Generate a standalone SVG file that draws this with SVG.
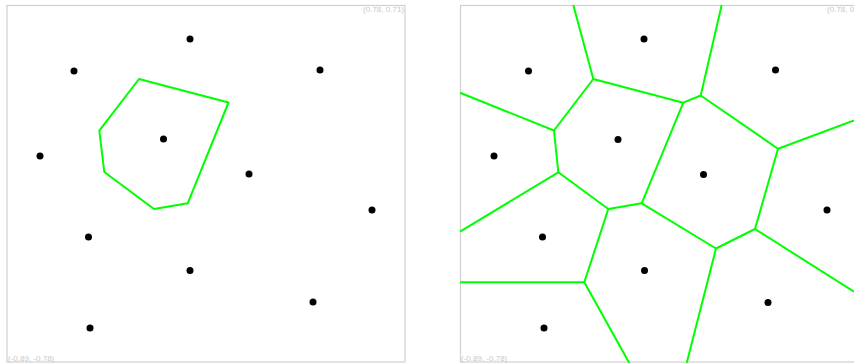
<svg xmlns="http://www.w3.org/2000/svg" width="854" height="363" viewBox="0 0 854 363">
<style>
.frame{fill:none;stroke:#d0d0d0;stroke-width:1.2}
.lbl{font-family:"Liberation Sans",Arial,sans-serif;font-size:8px;fill:#c8c8c8}
.edge{fill:none;stroke:#00ff00;stroke-width:2;stroke-linejoin:round}
.pt{fill:#000}
</style>
<rect width="854" height="363" fill="#fff"/>
<g id="left-panel">
  <rect class="frame" x="7" y="5.5" width="398" height="356.5"/>
  <text class="lbl" x="404" y="12" text-anchor="end">(0.78, 0.71)</text>
  <text class="lbl" x="8" y="361">(-0.89, -0.78)</text>
  <g id="left-connectors">
    <polygon class="edge" points="139,79 228.5,102.5 187.7,203.3 154,209 104.3,172 99.3,130.7"/>
  </g>
  <g id="left-points">
    <circle class="pt" cx="190" cy="39" r="3.5"/>
    <circle class="pt" cx="74" cy="71" r="3.5"/>
    <circle class="pt" cx="320" cy="70" r="3.5"/>
    <circle class="pt" cx="163.5" cy="139" r="3.5"/>
    <circle class="pt" cx="40" cy="156" r="3.5"/>
    <circle class="pt" cx="249" cy="174" r="3.5"/>
    <circle class="pt" cx="372" cy="210" r="3.5"/>
    <circle class="pt" cx="88.5" cy="237" r="3.5"/>
    <circle class="pt" cx="190" cy="270.5" r="3.5"/>
    <circle class="pt" cx="313" cy="302" r="3.5"/>
    <circle class="pt" cx="90" cy="328" r="3.5"/>
  </g>
</g>
<g id="right-panel">
  <rect class="frame" x="460.5" y="5.5" width="409" height="356.5"/>
  <text class="lbl" x="868" y="12" text-anchor="end">(0.78, 0.71)</text>
  <text class="lbl" x="461" y="361">(-0.89, -0.78)</text>
  <g id="right-connectors">
    <polyline class="edge" points="573.3,5 593.3,79 683.3,102.7 700.7,95.5 721.7,5"/>
    <polyline class="edge" points="700.7,95.5 778,148.7 854,120.5"/>
    <polyline class="edge" points="778,148.7 755,229 854,291.7"/>
    <polyline class="edge" points="755,229 716,248.5 686.7,363"/>
    <polyline class="edge" points="716,248.5 641.7,203.3 683.3,102.7"/>
    <polyline class="edge" points="641.7,203.3 608.3,209 584.3,282.3 629.3,363"/>
    <polyline class="edge" points="584.3,282.3 460,282.3"/>
    <polyline class="edge" points="608.3,209 558.3,172.3 460,231.7"/>
    <polyline class="edge" points="558.3,172.3 554,130.5 593.3,79"/>
    <polyline class="edge" points="554,130.5 460,92.7"/>
  </g>
  <g id="right-points">
    <circle class="pt" cx="644" cy="39" r="3.5"/>
    <circle class="pt" cx="528.5" cy="71" r="3.5"/>
    <circle class="pt" cx="775.5" cy="70" r="3.5"/>
    <circle class="pt" cx="618" cy="139.5" r="3.5"/>
    <circle class="pt" cx="494" cy="156" r="3.5"/>
    <circle class="pt" cx="703.5" cy="174.5" r="3.5"/>
    <circle class="pt" cx="827" cy="210" r="3.5"/>
    <circle class="pt" cx="542.5" cy="237" r="3.5"/>
    <circle class="pt" cx="644.5" cy="270.5" r="3.5"/>
    <circle class="pt" cx="768" cy="302.5" r="3.5"/>
    <circle class="pt" cx="544" cy="328" r="3.5"/>
  </g>
</g>
</svg>
